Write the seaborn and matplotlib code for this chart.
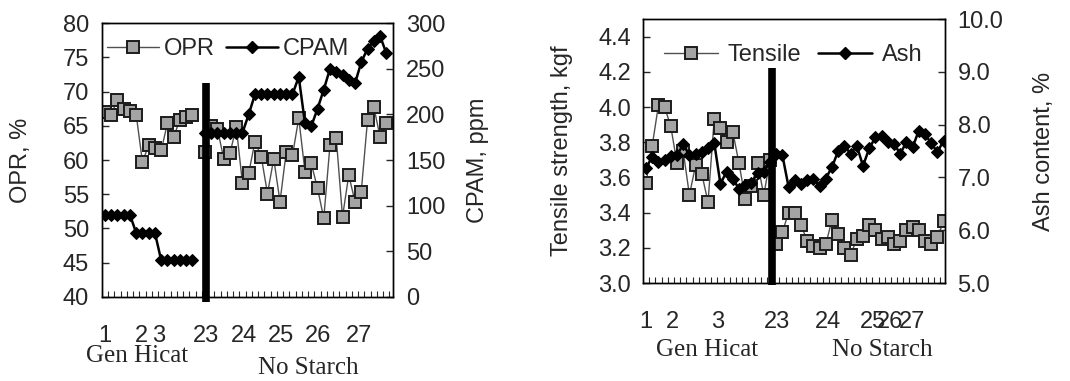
import numpy as np
import pandas as pd
import seaborn as sns
import matplotlib.pyplot as plt
from matplotlib.lines import Line2D
from matplotlib.ticker import FixedLocator, FormatStrFormatter

# left chart: OPR (%) and CPAM dose (ppm), one value per sample
opr = [67.0, 66.6, 68.8, 67.5, 67.2, 66.6, 59.7, 62.2, 61.7, 61.4,
       65.4, 63.4, 65.9, 66.3, 66.6, np.nan,
       61.2, 64.9, 64.5, 60.2, 61.0, 64.8, 56.6, 58.1, 62.7, 60.5,
       55.1, 60.2, 53.9, 61.2, 60.7, 66.1, 58.3, 59.5, 55.9, 51.5,
       62.2, 63.2, 51.7, 57.8, 53.9, 55.4, 65.8, 67.8, 63.4, 65.4]
cpam = [90, 90, 90, 90, 90, 70, 70, 70, 70, 40,
        40, 40, 40, 40, 40, np.nan,
        180, 180, 180, 180, 180, 180, 180, 200, 222, 222,
        222, 222, 222, 222, 222, 241, 190, 187, 206, 227,
        250, 246, 243, 238, 234, 257, 272, 280, 286, 267]
left_days = ["1", "2", "3", "23", "24", "25", "26", "27"]
left_day_pos = [0, 5.9, 8.6, 16.1, 22.3, 28.2, 34.1, 40.6]

# right chart: tensile strength (kgf) and ash content (%)
tensile = [3.57, 3.78, 4.01, 4.00, 3.89, 3.68, 3.75, 3.50, 3.67, 3.62,
           3.46, 3.93, 3.88, 3.80, 3.86, 3.68, 3.48, 3.55, 3.68, 3.50,
           3.70, 3.22, 3.29, 3.40, 3.40, 3.33, 3.24, 3.21, 3.20, 3.22,
           3.36, 3.28, 3.20, 3.16, 3.25, 3.27, 3.33, 3.30, 3.25, 3.26,
           3.22, 3.24, 3.30, 3.32, 3.30, 3.24, 3.22, 3.26, 3.35]
ash = [7.18, 7.39, 7.30, 7.33, 7.40, 7.42, 7.63, 7.42, 7.44, 7.48,
       7.55, 7.66, 6.88, 7.11, 6.98, 6.78, 6.86, 6.90, 7.08, 7.10,
       7.30, 7.45, 7.42, 6.82, 6.95, 6.88, 6.95, 6.98, 6.83, 6.98,
       7.20, 7.50, 7.60, 7.45, 7.60, 7.22, 7.55, 7.76, 7.79, 7.67,
       7.64, 7.45, 7.67, 7.57, 7.89, 7.82, 7.65, 7.48, 7.70]
right_days = ["1", "2", "3", "23", "24", "25", "26", "27"]
right_day_pos = [0, 4.2, 11.6, 21.1, 29.4, 36.6, 39.4, 42.9]

sns.set_theme(style="white")
plt.rcParams["font.family"] = ["Liberation Sans", "DejaVu Sans"]
plt.rcParams["axes.edgecolor"] = "black"
plt.rcParams["axes.linewidth"] = 1.0

FS = 17
sq = dict(marker="s", markersize=9, markerfacecolor="#a4a4a4",
          markeredgecolor="#1c1c1c", markeredgewidth=1.4, color="#505050", linewidth=1.0)
dm = dict(marker="D", markersize=6.5, markerfacecolor="black",
          markeredgecolor="black", color="black", linewidth=1.8)

fig = plt.figure(figsize=(10.7, 3.81), dpi=100)


def style_axes(ax, ax2, n, xlim, day_pos, days):
    ax.set_xlim(*xlim)
    ax.xaxis.set_major_locator(FixedLocator(day_pos))
    ax.set_xticklabels(days, fontsize=FS)
    ax.xaxis.set_minor_locator(FixedLocator(np.arange(n + 1) - 0.5))
    ax.tick_params(axis="x", which="major", length=0, pad=20)
    ax.tick_params(axis="x", which="minor", direction="in", length=4,
                   width=0.8, bottom=True, top=False)
    ax.tick_params(axis="y", direction="in", length=5, width=1, labelsize=FS, pad=9,
                   left=True, right=False)
    ax2.tick_params(axis="y", direction="in", length=5, width=1, labelsize=FS, pad=9,
                    right=True, left=False)
    ax.set_xlabel("")
    for a in (ax, ax2):
        for s in a.spines.values():
            s.set_color("black")
            s.set_linewidth(1.0)


# ---------------- left chart ----------------
idx = np.arange(len(opr))
left = pd.DataFrame({"sample": idx, "OPR": opr, "CPAM": cpam,
                     "run": np.where(idx < 15, 0, 1)})

ax = fig.add_axes([0.0950, 0.2205, 0.2726, 0.7191])
ax2 = ax.twinx()
sns.lineplot(data=left, x="sample", y="OPR", units="run", estimator=None,
             ax=ax, **sq)
sns.lineplot(data=left, x="sample", y="CPAM", units="run", estimator=None,
             ax=ax2, **dm)
ax.set_ylim(40, 80)
ax2.set_ylim(0, 300)
ax.set_yticks(np.arange(40, 81, 5))
ax2.set_yticks(np.arange(0, 301, 50))
style_axes(ax, ax2, len(opr), (-0.53, 46.13), left_day_pos, left_days)
ax.set_ylabel("OPR, %", fontsize=FS, labelpad=22)
ax2.set_ylabel("CPAM, ppm", fontsize=FS, labelpad=16)
ax2.axvline(16.1, ymin=-0.02, ymax=0.78, color="black", linewidth=5.5,
            clip_on=False, solid_capstyle="butt")
ax2.legend(handles=[Line2D([], [], **sq), Line2D([], [], **dm)],
           labels=["OPR", "CPAM"], ncol=2, frameon=False, fontsize=FS,
           loc="center left", bbox_to_anchor=(0.02, 0.905), borderaxespad=0,
           borderpad=0, handlelength=2.2, handletextpad=0.2, columnspacing=0.45)
fig.text(0.128, 0.066, "Gen Hicat", family="Liberation Serif", fontsize=18,
         ha="center", va="center")
fig.text(0.288, 0.035, "No Starch", family="Liberation Serif", fontsize=18,
         ha="center", va="center")

# ---------------- right chart ----------------
ridx = np.arange(len(tensile))
right = pd.DataFrame({"sample": ridx, "Tensile": tensile, "Ash": ash})

bx = fig.add_axes([0.6012, 0.2572, 0.2820, 0.6924])
bx2 = bx.twinx()
sns.lineplot(data=right, x="sample", y="Tensile", estimator=None, ax=bx, **sq)
sns.lineplot(data=right, x="sample", y="Ash", estimator=None, ax=bx2, **dm)
bx.set_ylim(3.0, 4.5)
bx2.set_ylim(5.0, 10.0)
bx.set_yticks(np.arange(3.0, 4.41, 0.2))
bx2.set_yticks(np.arange(5.0, 10.01, 1.0))
bx.yaxis.set_major_formatter(FormatStrFormatter("%.1f"))
bx2.yaxis.set_major_formatter(FormatStrFormatter("%.1f"))
style_axes(bx, bx2, len(tensile), (-0.44, 48.23), right_day_pos, right_days)
bx.set_ylabel("Tensile strength, kgf", fontsize=FS, labelpad=18)
bx2.set_ylabel("Ash content, %", fontsize=FS, labelpad=21)
bx2.axvline(20.3, ymin=-0.008, ymax=0.814, color="black", linewidth=5.5,
            clip_on=False, solid_capstyle="butt")
bx2.legend(handles=[Line2D([], [], **sq), Line2D([], [], **dm)],
           labels=["Tensile", "Ash"], ncol=2, frameon=False, fontsize=FS,
           loc="center left", bbox_to_anchor=(0.068, 0.865), borderaxespad=0,
           borderpad=0, handlelength=2.3, handletextpad=0.4, columnspacing=0.7)
fig.text(0.661, 0.081, "Gen Hicat", family="Liberation Serif", fontsize=18,
         ha="center", va="center")
fig.text(0.825, 0.081, "No Starch", family="Liberation Serif", fontsize=18,
         ha="center", va="center")

fig.savefig("out.png", dpi=100)
